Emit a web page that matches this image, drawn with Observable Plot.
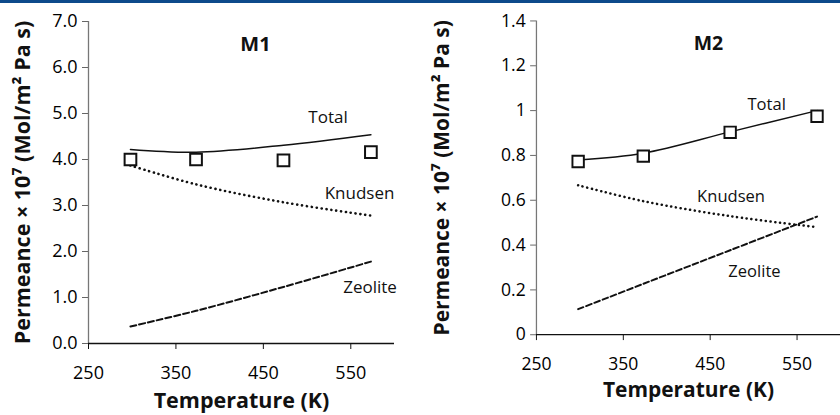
<!DOCTYPE html>
<html>
<head>
<meta charset="utf-8">
<script src="https://cdn.jsdelivr.net/npm/d3@7"></script>
<script src="https://cdn.jsdelivr.net/npm/@observablehq/plot@0.6"></script>
<style>
  html, body { margin: 0; padding: 0; background: #fff; }
  #wrap { position: relative; width: 840px; height: 415px; overflow: hidden; background: #fff; }
  #band { position: absolute; left: 0; top: 0; width: 840px; height: 3px; background: #0d4a8b; }
  .panel { position: absolute; top: 0; }
  .panel svg { overflow: visible; }
</style>
</head>
<body>
<div id="wrap"><div id="band"></div></div>
<script>
// Temperatures (K)
const temps = [298, 373, 473, 573];

// Panel M1 (permeance x 1e7)
const m1Measured = [4.0, 4.0, 3.98, 4.16];
const m1Total    = [4.22, 4.16, 4.31, 4.54];
const m1Knudsen  = [3.87, 3.46, 3.07, 2.78];
const m1Zeolite  = [0.37, 0.71, 1.23, 1.78];
const m1Ticks    = [0, 1, 2, 3, 4, 5, 6, 7];

// Panel M2
const m2Measured = [0.773, 0.797, 0.903, 0.975];
const m2Total    = [0.78, 0.81, 0.905, 1.0];
const m2Knudsen  = [0.667, 0.596, 0.529, 0.48];
const m2Zeolite  = [0.114, 0.227, 0.377, 0.527];
const m2Ticks    = [0, 0.2, 0.4, 0.6, 0.8, 1, 1.2, 1.4];

const xTicks = [250, 350, 450, 550];

// Label anchor points (data coords)
const m1Labels = [
  {t: "Total",   x: 524, y: 4.92},
  {t: "Knudsen", x: 560, y: 3.27},
  {t: "Zeolite", x: 572, y: 1.22},
  {t: "M1",      x: 441, y: 6.5, b: true}
];
const m2Labels = [
  {t: "Total",   x: 515, y: 1.025},
  {t: "Knudsen", x: 474, y: 0.617},
  {t: "Zeolite", x: 501, y: 0.282},
  {t: "M2",      x: 448, y: 1.3, b: true}
];

const font = "'Open Sans', Lato, sans-serif";

function rows(ys) { return temps.map((t, i) => ({t, v: ys[i]})); }

function panel({measured, total, knud, zeo, ticks, yMax, fmt, labels, marginLeft, width, marginRight}) {
  const svg = Plot.plot({
    width, height: 415,
    marginLeft, marginRight, marginTop: 21, marginBottom: 72,
    style: {fontFamily: font, fontSize: "18px", color: "#111", background: "transparent"},
    x: {domain: [250, 600]},
    y: {domain: [0, yMax]},
    marks: [
      Plot.ruleX([250], {stroke: "#777", strokeWidth: 1.3}),
      Plot.ruleY([0], {stroke: "#111", strokeWidth: 1.3}),
      Plot.axisY({ticks, tickFormat: fmt, tickSize: 6, tickPadding: 5, stroke: "#666",
        label: "Permeance × 10⁷ (Mol/m² Pa s)", labelAnchor: "center", labelArrow: false, labelOffset: marginLeft - 14}),
      Plot.axisX({ticks: xTicks, tickSize: 6, tickPadding: 17, stroke: "#111",
        label: "Temperature (K)", labelAnchor: "center", labelArrow: false, labelOffset: 64}),
      Plot.line(rows(total), {x: "t", y: "v", curve: "catmull-rom", stroke: "#111", strokeWidth: 1.5}),
      Plot.line(rows(knud), {x: "t", y: "v", curve: "catmull-rom", stroke: "#111", strokeWidth: 2.6, strokeDasharray: "0.1,4.8", strokeLinecap: "round"}),
      Plot.line(rows(zeo), {x: "t", y: "v", curve: "catmull-rom", stroke: "#111", strokeWidth: 2, strokeDasharray: "6,3"}),
      Plot.dot(rows(measured), {x: "t", y: "v", symbol: "square", r: 6.6, stroke: "#111", strokeWidth: 2, fill: "white"}),
      Plot.text(labels.filter(d => !d.b), {x: "x", y: "y", text: "t", fontSize: 17, fill: "#111"}),
      Plot.text(labels.filter(d => d.b), {x: "x", y: "y", text: "t", fontSize: 20, fontWeight: "bold", fill: "#111"})
    ]
  });
  const s = d3.select(svg);
  s.selectAll('[aria-label="x-axis tick label"] text, [aria-label="y-axis tick label"] text')
    .style("font-size", "18px").style("fill", "#000");
  s.selectAll('[aria-label="x-axis label"] text, [aria-label="y-axis label"] text')
    .style("font-size", "21.5px").style("font-weight", "bold").style("fill", "#111");
  return svg;
}

const wrap = document.getElementById("wrap");

const left = panel({measured: m1Measured, total: m1Total, knud: m1Knudsen, zeo: m1Zeolite,
  ticks: m1Ticks, yMax: 7, fmt: d3.format(".1f"), labels: m1Labels, marginLeft: 88, marginRight: 26, width: 420});
const lp = document.createElement("div"); lp.className = "panel"; lp.style.left = "0px"; lp.appendChild(left); wrap.appendChild(lp);

const right = panel({measured: m2Measured, total: m2Total, knud: m2Knudsen, zeo: m2Zeolite,
  ticks: m2Ticks, yMax: 1.4, fmt: d => String(+d.toFixed(1)), labels: m2Labels, marginLeft: 119, marginRight: 0, width: 431});
const rp = document.createElement("div"); rp.className = "panel"; rp.style.left = "420px"; rp.appendChild(right); wrap.appendChild(rp);
</script>
</body>
</html>
